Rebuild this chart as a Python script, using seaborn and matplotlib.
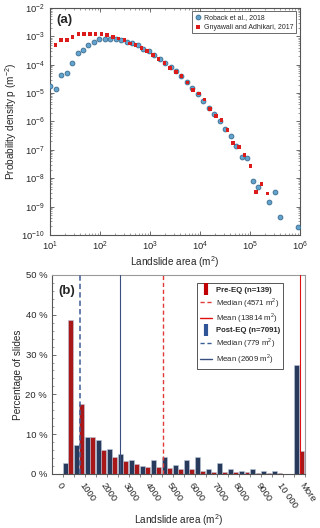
import numpy as np
import pandas as pd
import seaborn as sns
import matplotlib.pyplot as plt
from matplotlib.lines import Line2D
from matplotlib.ticker import LogLocator, MultipleLocator, NullFormatter

# ---- panel (a): landslide size distributions (log10 values)
roback_log_area = [1.01, 1.12, 1.23, 1.34, 1.45, 1.56, 1.67, 1.77, 1.88, 1.99,
                   2.10, 2.21, 2.32, 2.43, 2.54, 2.65, 2.76, 2.87, 2.98, 3.09,
                   3.20, 3.31, 3.42, 3.52, 3.63, 3.74, 3.85, 3.96, 4.07, 4.18,
                   4.29, 4.40, 4.51, 4.62, 4.73, 4.84, 4.95, 5.06, 5.17, 5.39,
                   5.50, 5.61, 5.96]
roback_log_p = [-4.74, -4.86, -4.35, -4.29, -3.95, -3.58, -3.50, -3.32, -3.19, -3.09,
                -3.09, -3.09, -3.10, -3.12, -3.19, -3.25, -3.32, -3.44, -3.53, -3.67,
                -3.79, -3.93, -4.07, -4.22, -4.40, -4.60, -4.83, -5.05, -5.28, -5.53,
                -5.73, -6.00, -6.26, -6.53, -6.88, -7.24, -7.30, -8.11, -8.32, -8.83,
                -8.48, -9.37, -9.71]

gny_log_area = [1.11, 1.22, 1.34, 1.45, 1.57, 1.68, 1.80, 1.91, 2.03, 2.14,
                2.26, 2.37, 2.49, 2.60, 2.71, 2.83, 2.94, 3.06, 3.17, 3.29,
                3.40, 3.52, 3.63, 3.75, 3.86, 3.98, 4.09, 4.20, 4.32, 4.43,
                4.55, 4.66, 4.78, 4.89, 5.01, 5.12, 5.23, 5.35]
gny_log_p = [-3.31, -3.12, -3.14, -3.03, -2.91, -2.91, -2.93, -2.92, -2.92, -2.96,
             -3.02, -3.08, -3.14, -3.25, -3.31, -3.42, -3.52, -3.66, -3.81, -3.93,
             -4.11, -4.25, -4.41, -4.63, -4.89, -5.01, -5.23, -5.55, -5.81, -5.95,
             -6.30, -6.77, -6.89, -7.19, -7.56, -8.49, -8.20, -8.54]

# ---- panel (b): histogram of landslide areas (% of slides per 500 m2 bin)
bin_centers = [250, 750, 1250, 1750, 2250, 2750, 3250, 3750, 4250, 4750,
               5250, 5750, 6250, 6750, 7250, 7750, 8250, 8750, 9250, 9750, 10750]
post_pct = [2.8, 7.2, 9.2, 8.6, 6.4, 5.1, 3.6, 2.1, 3.6, 4.2,
            2.2, 3.6, 4.2, 1.35, 2.75, 1.35, 0.7, 1.35, 0.7, 0.7, 27.4]
pre_pct = [38.6, 17.5, 9.2, 6.1, 4.25, 3.25, 2.4, 1.75, 1.8, 1.6,
           1.25, 1.2, 0.75, 0.6, 0.6, 0.6, 0.6, 0.35, 0.3, 0.35, 5.8]
tick_pos = [0, 1000, 2000, 3000, 4000, 5000, 6000, 7000, 8000, 9000, 10000, 11000]
tick_labels = ["0", "1000", "2000", "3000", "4000", "5000", "6000", "7000",
               "8000", "9000", "10 000", "More"]
pre_median, pre_mean = 4571, 13814
post_median, post_mean = 779, 2609

RED = "#C00000"
NAVY = "#1F3864"

sns.set_theme(style="ticks")
plt.rcParams["font.family"] = ["Liberation Sans", "DejaVu Sans"]
plt.rcParams["mathtext.fontset"] = "custom"
plt.rcParams["mathtext.rm"] = "Liberation Sans"

fig = plt.figure(figsize=(3.2, 5.28), dpi=100)
ax1 = fig.add_axes([0.156, 0.555, 0.781, 0.430])
ax2 = fig.add_axes([0.1625, 0.1023, 0.79, 0.377])

# ---------------- (a)
dfa = pd.DataFrame({"area": 10 ** np.array(roback_log_area), "p": 10 ** np.array(roback_log_p)})
dfb = pd.DataFrame({"area": 10 ** np.array(gny_log_area), "p": 10 ** np.array(gny_log_p)})
sns.scatterplot(data=dfa, x="area", y="p", ax=ax1, marker="o", s=12, color="#62A3CE",
                edgecolor="#3A6C8E", linewidth=0.6, label="Roback et al., 2018", zorder=3)
sns.scatterplot(data=dfb, x="area", y="p", ax=ax1, marker="s", s=7, color="#DC1C1A",
                edgecolor="none", label="Gnyawali and Adhikari, 2017", zorder=4)
ax1.set_xscale("log")
ax1.set_yscale("log")
ax1.set_xlim(10, 1e6)
ax1.set_ylim(1e-10, 1e-2)
ax1.xaxis.set_major_locator(LogLocator(base=10, numticks=10))
ax1.yaxis.set_major_locator(LogLocator(base=10, numticks=12))
ax1.xaxis.set_minor_locator(LogLocator(base=10, subs=np.arange(2, 10), numticks=20))
ax1.yaxis.set_minor_locator(LogLocator(base=10, subs=np.arange(2, 10), numticks=20))
ax1.yaxis.set_minor_formatter(NullFormatter())
ax1.xaxis.set_minor_formatter(NullFormatter())
ax1.tick_params(which="both", direction="in", top=True, right=True, labelsize=6.8, color="#555555")
ax1.tick_params(which="major", length=3, width=0.6)
ax1.tick_params(which="minor", length=1.5, width=0.4)
for sp in ax1.spines.values():
    sp.set_color("#555555")
    sp.set_linewidth(0.8)
ax1.set_xlabel("Landslide area (m$^2$)", fontsize=7.2, labelpad=1)
ax1.set_ylabel("Probability density p (m$^{-2}$)", fontsize=7.2, labelpad=2)
ax1.text(0.025, 0.975, "(a)", transform=ax1.transAxes, fontsize=9.5, fontweight="bold",
         ha="left", va="top")
leg1 = ax1.legend(loc="upper right", bbox_to_anchor=(0.985, 0.985), fontsize=5,
                  frameon=True, fancybox=False, edgecolor="#444444", borderpad=0.4,
                  handletextpad=0.3, labelspacing=0.35, handlelength=1.0, borderaxespad=0)
leg1.get_frame().set_linewidth(0.7)

# ---------------- (b)
dfh = pd.DataFrame({
    "center": bin_centers * 2,
    "pct": post_pct + pre_pct,
    "event": ["Post-EQ"] * len(bin_centers) + ["Pre-EQ"] * len(bin_centers),
})
sns.barplot(data=dfh, x="center", y="pct", hue="event", hue_order=["Post-EQ", "Pre-EQ"],
            palette={"Post-EQ": NAVY, "Pre-EQ": RED}, native_scale=True, width=0.96,
            gap=0.1, dodge=True, errorbar=None, legend=False, ax=ax2,
            edgecolor="#B9C6DC", linewidth=0.4, zorder=2)

xmax = 11000
ax2.axvline(post_median, color="#3C5E96", lw=1.1, ls=(0, (3.5, 2)), zorder=3)
ax2.axvline(post_mean, color="#3A4F80", lw=0.8, zorder=3)
ax2.axvline(pre_median, color="#E23A3A", lw=1.0, ls=(0, (3, 2)), zorder=3)
ax2.axvline(min(pre_mean, xmax - 200), color="#E01010", lw=0.8, zorder=3)

ax2.set_xlim(-480, xmax)
ax2.set_ylim(0, 50)
ax2.set_xticks(tick_pos)
ax2.set_xticklabels(tick_labels, rotation=-55, ha="left", va="top", rotation_mode="anchor")
ax2.xaxis.set_minor_locator(MultipleLocator(500))
ax2.set_yticks([0, 10, 20, 30, 40, 50])
ax2.set_yticklabels([f"{v} %" for v in [0, 10, 20, 30, 40, 50]])
ax2.yaxis.set_minor_locator(MultipleLocator(2))
ax2.tick_params(axis="x", which="both", direction="out", length=2, width=0.5,
                labelsize=6.8, pad=3, color="#555555")
ax2.tick_params(axis="y", which="major", direction="in", length=3, width=0.6,
                labelsize=6.8, color="#555555")
ax2.tick_params(axis="y", which="minor", direction="in", length=1.5, width=0.4, color="#555555")
for side in ["left", "bottom"]:
    ax2.spines[side].set_color("#555555")
    ax2.spines[side].set_linewidth(0.8)
for side in ["top", "right"]:
    ax2.spines[side].set_visible(True)
    ax2.spines[side].set_color("#9A9A9A")
    ax2.spines[side].set_linewidth(0.8)
ax2.set_xlabel("Landslide area (m$^2$)", fontsize=7.2, labelpad=2)
ax2.set_ylabel("Percentage of slides", fontsize=7.2, labelpad=2)
ax2.text(0.025, 0.95, "(b)", transform=ax2.transAxes, fontsize=9.5, fontweight="bold",
         ha="left", va="top")

handles = [
    Line2D([], [], color=RED, marker="|", ls="none", markersize=8, markeredgewidth=3),
    Line2D([], [], color="#E23A3A", lw=1.0, ls=(0, (3, 2))),
    Line2D([], [], color="#E01010", lw=1.0),
    Line2D([], [], color="#2F5597", marker="|", ls="none", markersize=8, markeredgewidth=3),
    Line2D([], [], color="#3C5E96", lw=1.0, ls=(0, (3, 2))),
    Line2D([], [], color="#3A4F80", lw=1.0),
]
labels = ["Pre-EQ (n=139)", f"Median ({pre_median} m$^2$)", f"Mean ({pre_mean} m$^2$)",
          "Post-EQ (n=7091)", f"Median ({post_median} m$^2$)", f"Mean ({post_mean} m$^2$)"]
leg2 = ax2.legend(handles, labels, loc="upper right", bbox_to_anchor=(0.915, 0.96),
                  fontsize=5.6, frameon=True, fancybox=False, edgecolor="#555555",
                  borderpad=0.45, labelspacing=0.22, handlelength=1.6, handletextpad=0.4,
                  borderaxespad=0, framealpha=1)
leg2.get_frame().set_linewidth(0.7)
for i in (0, 3):
    leg2.get_texts()[i].set_fontweight("bold")

fig.savefig("out.png", dpi=100)
plt.close(fig)
